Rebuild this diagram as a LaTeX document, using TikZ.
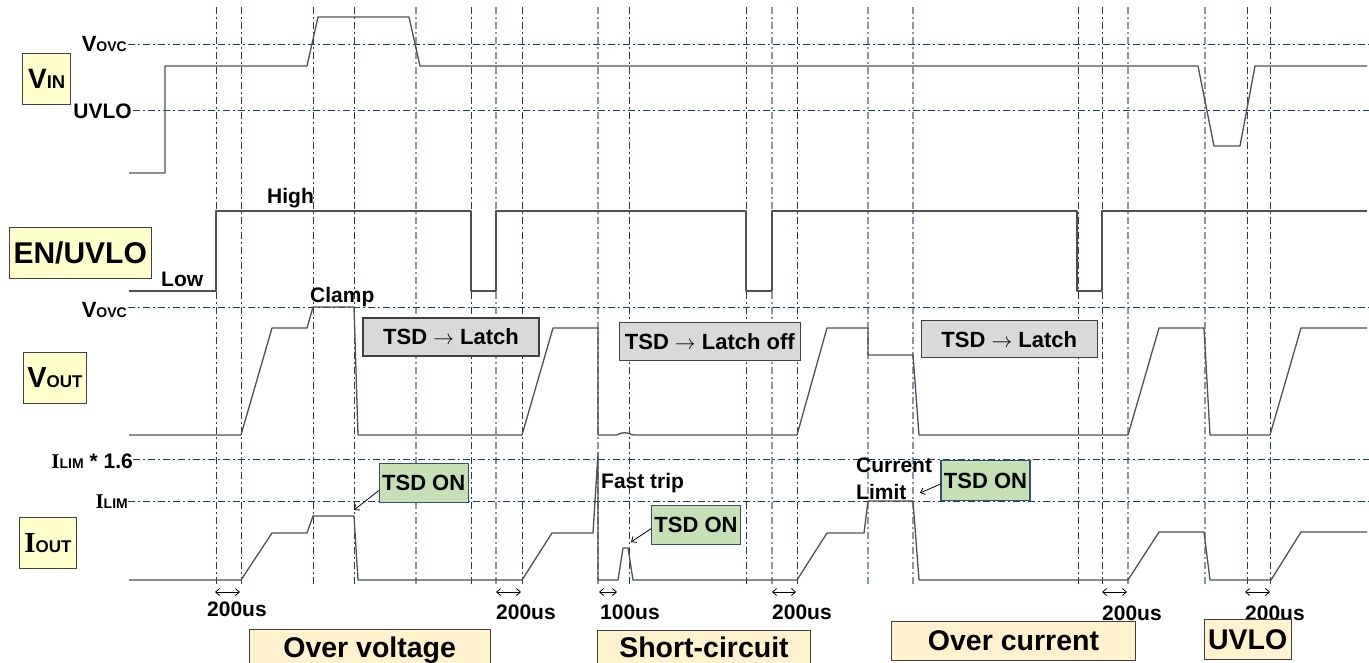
\documentclass[tikz,border=0pt]{standalone}
\usepackage{fontspec}
\setmainfont{Liberation Sans}
\newfontfamily\slabI{Liberation Serif}
\usetikzlibrary{arrows.meta}
\newcommand\fsz[1]{\fontsize{#1}{#1}\selectfont}

\begin{document}
\begin{tikzpicture}[
		x=1pt,y=-1pt,
		every node/.style={font=\bfseries\fsz{21},inner sep=0pt},
		>={Straight Barb[length=4pt,width=7pt]},
		sig/.style={SigLine,line width=1.3pt,line join=round},
		gridD/.style={GridBlue,line width=0.9pt,dash pattern=on 7pt off 3pt on 2pt off 3pt},
		gridL/.style={GridGrey,line width=1.5pt,dash pattern=on 7pt off 3pt on 2pt off 3pt},
		tag/.style={draw=EdgeDark,fill=TagYellow,line width=1pt},
		latch/.style={draw=EdgeDark,fill=LatchGrey,line width=1.1pt,font=\bfseries\fsz{22}},
		tsdon/.style={draw=OnEdge,fill=OnGreen,line width=1.1pt,font=\bfseries\fsz{22}},
		case/.style={draw=EdgeDark,fill=CaseBeige,line width=1.1pt,font=\bfseries\fsz{28.5}},
		point/.style={->,black,line width=0.8pt},
		dim/.style={<->,black,line width=0.8pt}
	]
		\definecolor{SigLine}{RGB}{80,80,80}
		\definecolor{GridBlue}{RGB}{24,62,110}
		\definecolor{GridGrey}{RGB}{132,151,176}
		\definecolor{TagYellow}{RGB}{255,255,204}
		\definecolor{CaseBeige}{RGB}{255,242,204}
		\definecolor{LatchGrey}{RGB}{217,217,217}
		\definecolor{OnGreen}{RGB}{197,224,180}
		\definecolor{OnEdge}{RGB}{52,80,110}
		\definecolor{EdgeDark}{RGB}{64,64,64}
		\useasboundingbox (0,0) rectangle (1369,663);
		% grid
		\draw[gridD] (216,7) -- (216,586) (241,7) -- (241,586)
			(313,7) -- (313,586) (354,7) -- (354,586)
			(471,7) -- (471,586) (522,7) -- (522,586)
			(629,7) -- (629,586) (746,7) -- (746,586)
			(797,7) -- (797,586) (1078,7) -- (1078,586)
			(1102,7) -- (1102,586) (1247,7) -- (1247,586)
			(1270,7) -- (1270,586);
		\draw[gridL] (416,7) -- (416,586) (496,7) -- (496,586)
			(598,7) -- (598,586) (772,7) -- (772,586)
			(868,7) -- (868,586) (913,7) -- (913,586)
			(1128,7) -- (1128,586) (1205,7) -- (1205,586);
		\draw[gridD] (128,44) -- (1369,44) (133,110) -- (1369,110)
			(128,307) -- (1369,307) (133,459) -- (1369,459)
			(128,501) -- (1369,501);
		% waveforms
		\draw[sig] (129,173) -- (165,173) -- (165,66) -- (307,66)
			-- (318,17) -- (409,17) -- (420,66) -- (1198,66)
			-- (1214,146) -- (1240,146) -- (1255,66) -- (1367,66);
		\draw[sig] (129,291) -- (216,291) -- (216,211) -- (471,211)
			-- (471,291) -- (496,291) -- (496,211) -- (746,211)
			-- (746,291) -- (772,291) -- (772,211) -- (1077,211)
			-- (1077,291) -- (1102,291) -- (1102,211) -- (1367,211);
		\draw[sig] (129,435) -- (241,435) -- (272,328) -- (307,328)
			-- (313,307) -- (354,307) -- (358,435) -- (522,435)
			-- (553,328) -- (598,328) -- (598,435) -- (617,435)
			.. controls (621,432) and (628,432) .. (633,435)
			-- (797,435) -- (827,328) -- (868,328) -- (868,355)
			-- (913,355) -- (919,435) -- (1128,435) -- (1159,328)
			-- (1204,328) -- (1210,435) -- (1270,435) -- (1301,328)
			-- (1367,328);
		\draw[sig] (129,580) -- (241,580) -- (272,533) -- (307,533)
			-- (313,516) -- (354,516) -- (358,580) -- (522,580)
			-- (552,533) -- (593,533) -- (598,453) -- (598,580)
			-- (618,580) -- (623,548) -- (628,548) -- (633,580)
			-- (797,580) -- (827,533) -- (864,533) -- (868,501)
			-- (913,501) -- (919,580) -- (1128,580) -- (1159,532)
			-- (1204,532) -- (1210,580) -- (1271,580) -- (1301,532)
			-- (1367,532);
		% signal names
		\node[tag,minimum width=48,minimum height=51] (vin)
			at (46.7,78.8) {\fsz{28}V\fsz{18.5}IN};
		\node[tag,minimum width=142,minimum height=51] (en)
			at (80.2,252.8) {\fsz{30}EN/UVLO};
		\node[tag,minimum width=63,minimum height=51] (vout)
			at (55,377.8) {\fsz{29}V\fsz{17}OUT};
		\node[tag,minimum width=57,minimum height=51] (iout)
			at (48,543) {{\fsz{29}\slabI I}\fsz{17}OUT};
		% levels
		\node[anchor=base east] (vovcA) at (127,52)
			{\fsz{22}V\fsz{14}OVC};
		\node[anchor=base east] (uvloL) at (132,119) {UVLO};
		\node[anchor=base east] (vovcB) at (127,317)
			{\fsz{22}V\fsz{14}OVC};
		\node[anchor=base east] (ilimB) at (133,468)
			{{\slabI I}\fsz{14}LIM\fsz{21} * 1.6};
		\node[anchor=base east] (ilimA) at (128,508)
			{{\slabI I}\fsz{14}LIM};
		\node[anchor=base west] (high) at (267,204) {High};
		\node[anchor=base west] (low) at (161,287) {Low};
		\node[anchor=base west] (clamp) at (310,303) {Clamp};
		\node[anchor=base west] (fast) at (601,488) {Fast trip};
		\node[anchor=north west,align=left,
			font=\bfseries\fontsize{21}{27}\selectfont] (curlim)
			at (856,458) {Current\\Limit};
		% TSD boxes
		\node[latch,minimum width=176,minimum height=38] (latchA)
			at (451,337) {TSD $\rightarrow$ Latch};
		\node[latch,minimum width=181,minimum height=38] (latchB)
			at (709.8,341.5) {TSD $\rightarrow$ Latch off};
		\node[latch,minimum width=176,minimum height=37] (latchC)
			at (1009.2,339.3) {TSD $\rightarrow$ Latch};
		\node[tsdon,minimum width=89,minimum height=39] (onA)
			at (423.7,482.7) {TSD ON};
		\node[tsdon,minimum width=89,minimum height=39] (onB)
			at (696,524.8) {TSD ON};
		\node[tsdon,minimum width=89,minimum height=40] (onC)
			at (985.5,480.9) {TSD ON};
		\coordinate (onAtip) at (354,510);
		\coordinate (onBtip) at (631,542);
		\coordinate (onCtip) at (920,493);
		\draw[point] (onA.190) -- (onAtip);
		\draw[point] (onB.185) -- (onBtip);
		\draw[point] (onC.184) -- (onCtip);
		% delays
		\coordinate (dAl) at (215,592); \coordinate (dAr) at (240,592);
		\coordinate (dBl) at (496,592); \coordinate (dBr) at (521,592);
		\coordinate (dCl) at (599,592); \coordinate (dCr) at (617,592);
		\coordinate (dDl) at (772,592); \coordinate (dDr) at (796,592);
		\coordinate (dEl) at (1102,592); \coordinate (dEr) at (1127,592);
		\coordinate (dFl) at (1245,592); \coordinate (dFr) at (1270,592);
		\draw[dim] (dAl) -- (dAr);
		\draw[dim] (dBl) -- (dBr);
		\draw[dim] (dCl) -- (dCr);
		\draw[dim] (dDl) -- (dDr);
		\draw[dim] (dEl) -- (dEr);
		\draw[dim] (dFl) -- (dFr);
		\node[anchor=base west] (dAt) at (207,616) {200us};
		\node[anchor=base west] (dBt) at (496,619) {200us};
		\node[anchor=base west] (dCt) at (600,619) {100us};
		\node[anchor=base west] (dDt) at (772,619) {200us};
		\node[anchor=base west] (dEt) at (1102,620) {200us};
		\node[anchor=base west] (dFt) at (1245,620) {200us};
		% cases
		\node[case,anchor=north,minimum width=241,minimum height=41]
			(caseOV) at (369.7,629) {Over voltage};
		\node[case,anchor=north,minimum width=213,minimum height=33]
			(caseSC) at (704,630.3) {Short-circuit};
		\node[case,anchor=north,minimum width=244,minimum height=39]
			(caseOC) at (1013.5,620.7) {Over current};
		\node[case,anchor=north,minimum width=87,minimum height=40]
			(caseUV) at (1247.7,619.3) {UVLO};
	\end{tikzpicture}
\end{document}
